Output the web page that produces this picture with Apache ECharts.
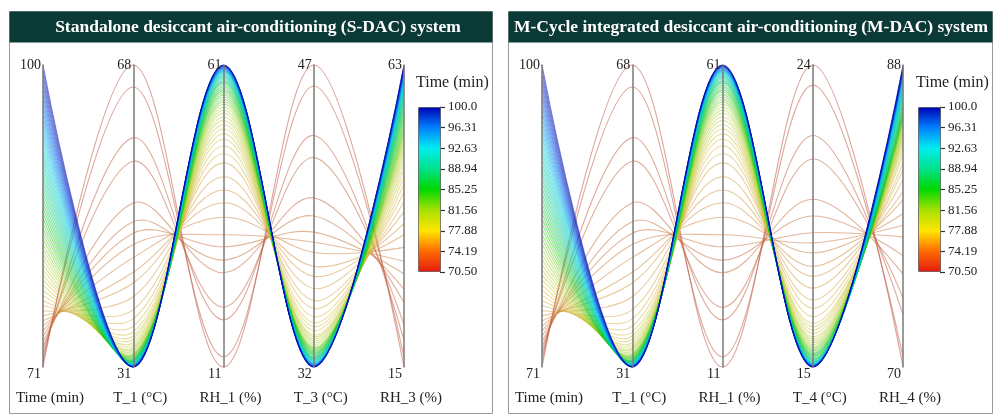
<!DOCTYPE html>
<html>
<head>
<meta charset="utf-8">
<title>Desiccant air-conditioning parallel plot</title>
<script src="https://cdn.jsdelivr.net/npm/echarts@6/dist/echarts.min.js"></script>
<style>
  html, body { margin: 0; padding: 0; background: #ffffff; }
  #chart { width: 1000px; height: 418px; }
</style>
</head>
<body>
<div id="chart"></div>
<script>
// ---- data -------------------------------------------------------------
const timeMin = [70.5, 71, 71.5, 72, 72.5, 73, 73.5, 74, 74.5, 75,
  75.5, 76, 76.5, 77, 77.5, 78, 78.5, 79, 79.5, 80,
  80.5, 81, 81.5, 82, 82.5, 83, 83.5, 84, 84.5, 85,
  85.5, 86, 86.5, 87, 87.5, 88, 88.5, 89, 89.5, 90,
  90.5, 91, 91.5, 92, 92.5, 93, 93.5, 94, 94.5, 95,
  95.5, 96, 96.5, 97, 97.5, 98, 98.5, 99, 99.5, 100];

const t1 = [68.0, 65.3, 59.1, 56.2, 51.1, 48.8, 47.4, 46.0, 44.4, 42.6,
  41.3, 39.6, 38.0, 36.9, 36.0, 35.3, 34.8, 34.4, 34.0, 33.7,
  33.4, 33.2, 33.0, 32.8, 32.6, 32.5, 32.4, 32.3, 32.2, 32.1,
  32.0, 31.9, 31.85, 31.8, 31.75, 31.7, 31.65, 31.6, 31.55, 31.5,
  31.46, 31.42, 31.38, 31.34, 31.3, 31.27, 31.24, 31.21, 31.18, 31.15,
  31.13, 31.11, 31.09, 31.07, 31.05, 31.04, 31.03, 31.02, 31.01, 31.0];

const rh1 = [11.0, 12.7, 18.8, 20.9, 26.6, 28.7, 30.9, 32.9, 35.8, 38.2,
  40.3, 42.5, 44.8, 46.3, 47.6, 48.7, 49.6, 50.4, 51.1, 51.8,
  52.4, 53.0, 53.5, 54.0, 54.5, 54.9, 55.3, 55.7, 56.1, 56.5,
  56.8, 57.1, 57.4, 57.7, 58.0, 58.2, 58.4, 58.6, 58.8, 59.0,
  59.2, 59.35, 59.5, 59.65, 59.8, 59.9, 60.0, 60.1, 60.2, 60.3,
  60.4, 60.5, 60.6, 60.68, 60.75, 60.82, 60.88, 60.93, 60.97, 61.0];

const t3 = [47.0, 45.96, 43.5, 42.4, 40.4, 39.5, 38.7, 38.2, 37.7, 37.0,
  36.5, 35.9, 35.3, 34.9, 34.5, 34.2, 34.0, 33.8, 33.6, 33.5,
  33.4, 33.3, 33.2, 33.1, 33.0, 32.95, 32.9, 32.85, 32.8, 32.75,
  32.7, 32.65, 32.6, 32.55, 32.5, 32.47, 32.44, 32.41, 32.38, 32.35,
  32.32, 32.29, 32.26, 32.23, 32.2, 32.18, 32.16, 32.14, 32.12, 32.1,
  32.08, 32.07, 32.06, 32.05, 32.04, 32.03, 32.02, 32.01, 32.0, 32.0];

const rh3 = [15.3, 16.9, 19.5, 22.0, 25.5, 27.6, 30.0, 32.0, 34.2, 36.2,
  38.0, 39.8, 41.4, 42.9, 44.2, 45.4, 46.5, 47.5, 48.4, 49.2,
  49.9, 50.5, 51.1, 51.6, 52.1, 52.6, 53.0, 53.5, 54.0, 54.6,
  55.2, 55.7, 56.2, 56.7, 57.1, 57.5, 57.9, 58.3, 58.6, 58.9,
  59.2, 59.5, 59.8, 60.1, 60.3, 60.5, 60.8, 61.0, 61.2, 61.4,
  61.6, 61.8, 62.0, 62.2, 62.4, 62.55, 62.7, 62.8, 62.9, 63.0];

const t4 = [24.0, 23.4, 21.9, 21.2, 20.0, 19.5, 19.0, 18.7, 18.4, 18.0,
  17.7, 17.35, 17.0, 16.75, 16.5, 16.3, 16.2, 16.1, 16.0, 15.9,
  15.84, 15.78, 15.72, 15.66, 15.6, 15.56, 15.52, 15.48, 15.44, 15.4,
  15.37, 15.34, 15.31, 15.28, 15.25, 15.23, 15.21, 15.19, 15.17, 15.15,
  15.13, 15.12, 15.11, 15.1, 15.09, 15.08, 15.07, 15.06, 15.05, 15.045,
  15.04, 15.035, 15.03, 15.025, 15.02, 15.015, 15.01, 15.005, 15.0, 15.0];

const rh4 = [70.1, 70.7, 73.2, 74.2, 75.6, 76.7, 77.8, 78.5, 79.2, 80.0,
  80.5, 81.2, 81.8, 82.2, 82.7, 83.0, 83.3, 83.5, 83.7, 83.9,
  84.0, 84.15, 84.3, 84.45, 84.6, 84.7, 84.8, 84.9, 85.0, 85.1,
  85.2, 85.3, 85.45, 85.55, 85.7, 85.8, 86.0, 86.1, 86.3, 86.4,
  86.5, 86.6, 86.7, 86.8, 86.9, 87.0, 87.1, 87.2, 87.3, 87.35,
  87.45, 87.5, 87.6, 87.65, 87.7, 87.75, 87.8, 87.85, 87.9, 88.0];

const sdacAxisNames = ['Time (min)', 'T_1 (°C)', 'RH_1 (%)', 'T_3 (°C)', 'RH_3 (%)'];
const mdacAxisNames = ['Time (min)', 'T_1 (°C)', 'RH_1 (%)', 'T_4 (°C)', 'RH_4 (%)'];
const colorbarLabels = ['70.50', '74.19', '77.88', '81.56', '85.25', '88.94', '92.63', '96.31', '100.0'];
const colorbarTitle = 'Time (min)';
const timeRange = [70.5, 100];

// ---- styling ----------------------------------------------------------
const FONT = '"Liberation Serif", "Times New Roman", serif';
const TEXT = '#222222';
// colour bar (jet-like)
const barColors = ['#e41a10', '#ff6a00', '#ffe600', '#a8e000', '#00d800',
  '#00e08c', '#00eeee', '#0080ff', '#0000b4'];
// the same ramp, toned down for the thin translucent lines
const lineColors = ['#b84a38', '#cc7838', '#d8c040', '#a8d028', '#18c818',
  '#00cc88', '#00d0e0', '#0068f0', '#0000a8'];

const panels = [
  {
    title: 'Standalone desiccant air-conditioning (S-DAC) system',
    names: sdacAxisNames,
    cols: [timeMin, t1, rh1, t3, rh3],
    boxX: 9.5, boxW: 483, titleX: 258, axisLeft: 43, barX: 418, barTop: 107
  },
  {
    title: 'M-Cycle integrated desiccant air-conditioning (M-DAC) system',
    names: mdacAxisNames,
    cols: [timeMin, t1, rh1, t4, rh4],
    boxX: 508.5, boxW: 484, titleX: 751, axisLeft: 542, barX: 918, barTop: 107
  }
];

const BOX_TOP = 11.5, BOX_H = 402, HEADER_H = 31;
const AXIS_TOP = 65, AXIS_H = 302, AXIS_SPAN = 361;
const BAR_W = 23, BAR_H = 165;

const parallel = [], parallelAxis = [], series = [], visualMap = [];
const grid = [], xAxis = [], yAxis = [], graphic = [];

panels.forEach((p, k) => {
  parallel.push({
    left: p.axisLeft, top: AXIS_TOP, width: AXIS_SPAN, height: AXIS_H,
    layout: 'horizontal'
  });

  p.cols.forEach((col, d) => {
    const lo = Math.min(...col), hi = Math.max(...col);
    parallelAxis.push({
      parallelIndex: k, dim: d, name: p.names[d],
      min: lo, max: hi,
      nameLocation: 'start', nameGap: 24,
      nameTextStyle: { fontFamily: FONT, fontSize: 15, color: TEXT, padding: [0, 0, 0, 14] },
      axisLine: { lineStyle: { color: '#7a7a7a', width: 1.5 } },
      axisTick: { show: false },
      splitLine: { show: false },
      axisLabel: {
        customValues: [lo, hi],
        margin: -2, align: 'right',
        fontFamily: FONT, fontSize: 14, color: TEXT,
        formatter: v => (v < (lo + hi) / 2 ? '{lo|' : '{hi|') + Math.round(v) + '}',
        rich: {
          lo: { padding: [15, 0, 0, 0], fontFamily: FONT, fontSize: 14, color: TEXT },
          hi: { fontFamily: FONT, fontSize: 14, color: TEXT }
        }
      }
    });
  });

  series.push({
    type: 'parallel',
    parallelIndex: k,
    smooth: 0.36,
    silent: true,
    lineStyle: { width: 1.1, opacity: 0.5 },
    data: timeMin.map((t, i) => p.cols.map(c => c[i]))
  });

  visualMap.push({
    type: 'continuous',
    seriesIndex: k,
    dimension: 0,
    min: timeRange[0], max: timeRange[1],
    calculable: false,
    left: p.barX - 5, top: p.barTop - 5, padding: 5,
    itemWidth: BAR_W, itemHeight: BAR_H,
    text: null,
    inRange: { color: lineColors },
    controller: { inRange: { color: barColors } }
  });

  // tick marks and labels of the colour bar
  grid.push({ left: p.barX + BAR_W - 1, top: p.barTop, width: 1, height: BAR_H });
  xAxis.push({ gridIndex: k, type: 'value', show: false });
  yAxis.push({
    gridIndex: k, type: 'value', position: 'right',
    min: 0, max: colorbarLabels.length - 1, interval: 1,
    axisLine: { show: true, lineStyle: { color: '#6a6a6a', width: 0.8 } },
    splitLine: { show: false },
    axisTick: { show: true, inside: false, length: 5, lineStyle: { color: '#333', width: 1.2 } },
    axisLabel: {
      margin: 7, fontFamily: FONT, fontSize: 13, color: TEXT,
      formatter: v => colorbarLabels[v]
    }
  });

  graphic.push(
    { type: 'rect', z: 100, silent: true,
      shape: { x: p.boxX, y: BOX_TOP, width: p.boxW, height: BOX_H },
      style: { fill: 'none', stroke: '#9a9a9a', lineWidth: 1 } },
    { type: 'rect', z: 100, silent: true,
      shape: { x: p.boxX, y: BOX_TOP, width: p.boxW, height: HEADER_H },
      style: { fill: '#0b3a36' } },
    { type: 'text', z: 101, silent: true, x: p.titleX, y: BOX_TOP + HEADER_H / 2 + 0.5,
      style: { text: p.title, fill: '#ffffff', font: 'bold 17.5px ' + FONT,
        align: 'center', verticalAlign: 'middle' } },
    { type: 'text', z: 101, silent: true, x: p.barX - 2, y: 83,
      style: { text: colorbarTitle, fill: TEXT, font: '16px ' + FONT,
        align: 'left', verticalAlign: 'middle' } },
    { type: 'rect', z: 101, silent: true,
      shape: { x: p.barX + 0.5, y: p.barTop + 0.5, width: BAR_W - 1, height: BAR_H - 1 },
      style: { fill: 'none', stroke: '#6a6a6a', lineWidth: 0.8 } }
  );
});

const chart = echarts.init(document.getElementById('chart'), null, { renderer: 'canvas' });
chart.setOption({
  animation: false,
  backgroundColor: '#ffffff',
  textStyle: { fontFamily: FONT },
  parallel, parallelAxis, series, visualMap,
  grid, xAxis, yAxis, graphic
});
</script>
</body>
</html>
